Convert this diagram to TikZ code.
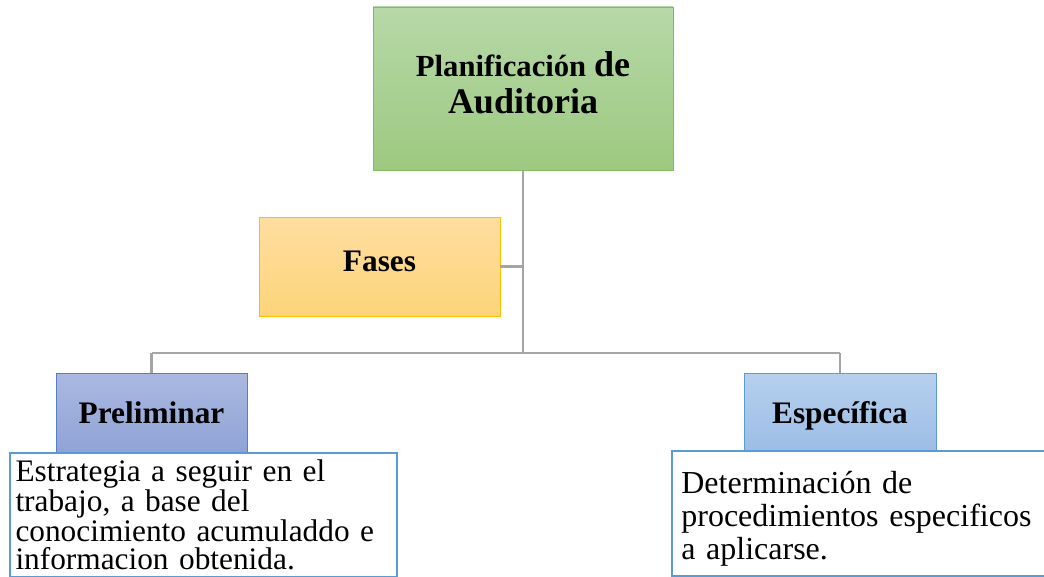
\documentclass[tikz,border=0pt]{standalone}
\usepackage{fontspec}
\setmainfont{Liberation Serif}

\definecolor{planTop}{RGB}{183,216,168}
\definecolor{planBot}{RGB}{157,201,128}
\definecolor{planLine}{RGB}{130,186,95}
\definecolor{fasesTop}{RGB}{254,222,160}
\definecolor{fasesBot}{RGB}{253,212,122}
\definecolor{fasesLine}{RGB}{255,192,0}
\definecolor{prelTop}{RGB}{171,185,225}
\definecolor{prelBot}{RGB}{143,163,214}
\definecolor{prelLine}{RGB}{84,126,198}
\definecolor{espTop}{RGB}{182,208,237}
\definecolor{espBot}{RGB}{156,189,230}
\definecolor{espLine}{RGB}{91,155,213}
\definecolor{linkGray}{RGB}{165,165,165}

\begin{document}
\begin{tikzpicture}[x=0.75pt, y=-0.75pt,
        title/.style={rectangle, thin, font=\bfseries\fontsize{23.5}{28}\selectfont, align=center, inner sep=0pt},
        planbox/.style={title, draw=planLine, top color=planTop, bottom color=planBot, minimum width=225pt, minimum height=122.25pt, text depth=9pt},
        fasesbox/.style={title, draw=fasesLine, top color=fasesTop, bottom color=fasesBot, minimum width=180.75pt, minimum height=74.25pt, text height=15.5pt, text depth=7.5pt},
        prelbox/.style={title, draw=prelLine, top color=prelTop, bottom color=prelBot, minimum width=143.25pt, minimum height=59.25pt, text height=20pt, text depth=3pt},
        espbox/.style={title, draw=espLine, top color=espTop, bottom color=espBot, minimum width=144pt, minimum height=59.25pt, text height=20pt, text depth=3pt},
        detail/.style={rectangle, draw=espLine, fill=white, line width=1.5pt, anchor=north west, align=left},
        link/.style={draw=linkGray, line width=2pt},
    ]
    \useasboundingbox (0,0) rectangle (1044,577);

    \node[planbox] (Plan) at (523,88.5) {{\fontsize{23}{27}\selectfont Planificación} {\fontsize{27}{29}\selectfont de}\\{\fontsize{27}{29}\selectfont Auditoria}};
    \node[fasesbox] (Fases) at (379.5,266.5) {Fases};
    \node[prelbox] (Preliminar) at (151.5,412.5) {Preliminar};
    \node[espbox] (Especifica) at (840,412.5) {Específica};

    \coordinate (Hub) at (523,353);

    \path[link] (Plan.south) edge (Hub);
    \path[link] (Fases.east) edge (Fases.east -| Hub);
    \path[link] (Hub) edge (Hub -| Preliminar.north) (Hub -| Preliminar.north) edge (Preliminar.north);
    \path[link] (Hub) edge (Hub -| Especifica.north) (Hub -| Especifica.north) edge (Especifica.north);

    \node[detail, minimum width=290.25pt, minimum height=93pt, inner xsep=3.5pt, inner ysep=0pt, text width=282pt,
          font=\fontsize{23.5}{21}\selectfont] (PreliminarText) at (9,452)
        {Estrategia a seguir en el\\ trabajo, a base del\\ conocimiento acumuladdo e\\ informacion obtenida.};
    \node[detail, minimum width=300pt, minimum height=94pt, inner xsep=6.5pt, inner ysep=0pt, text width=286pt,
          font=\fontsize{24}{24.75}\selectfont] (EspecificaText) at (671,450)
        {\rule{0pt}{25pt}Determinación de\\ procedimientos especificos\\ a aplicarse.};
\end{tikzpicture}
\end{document}
